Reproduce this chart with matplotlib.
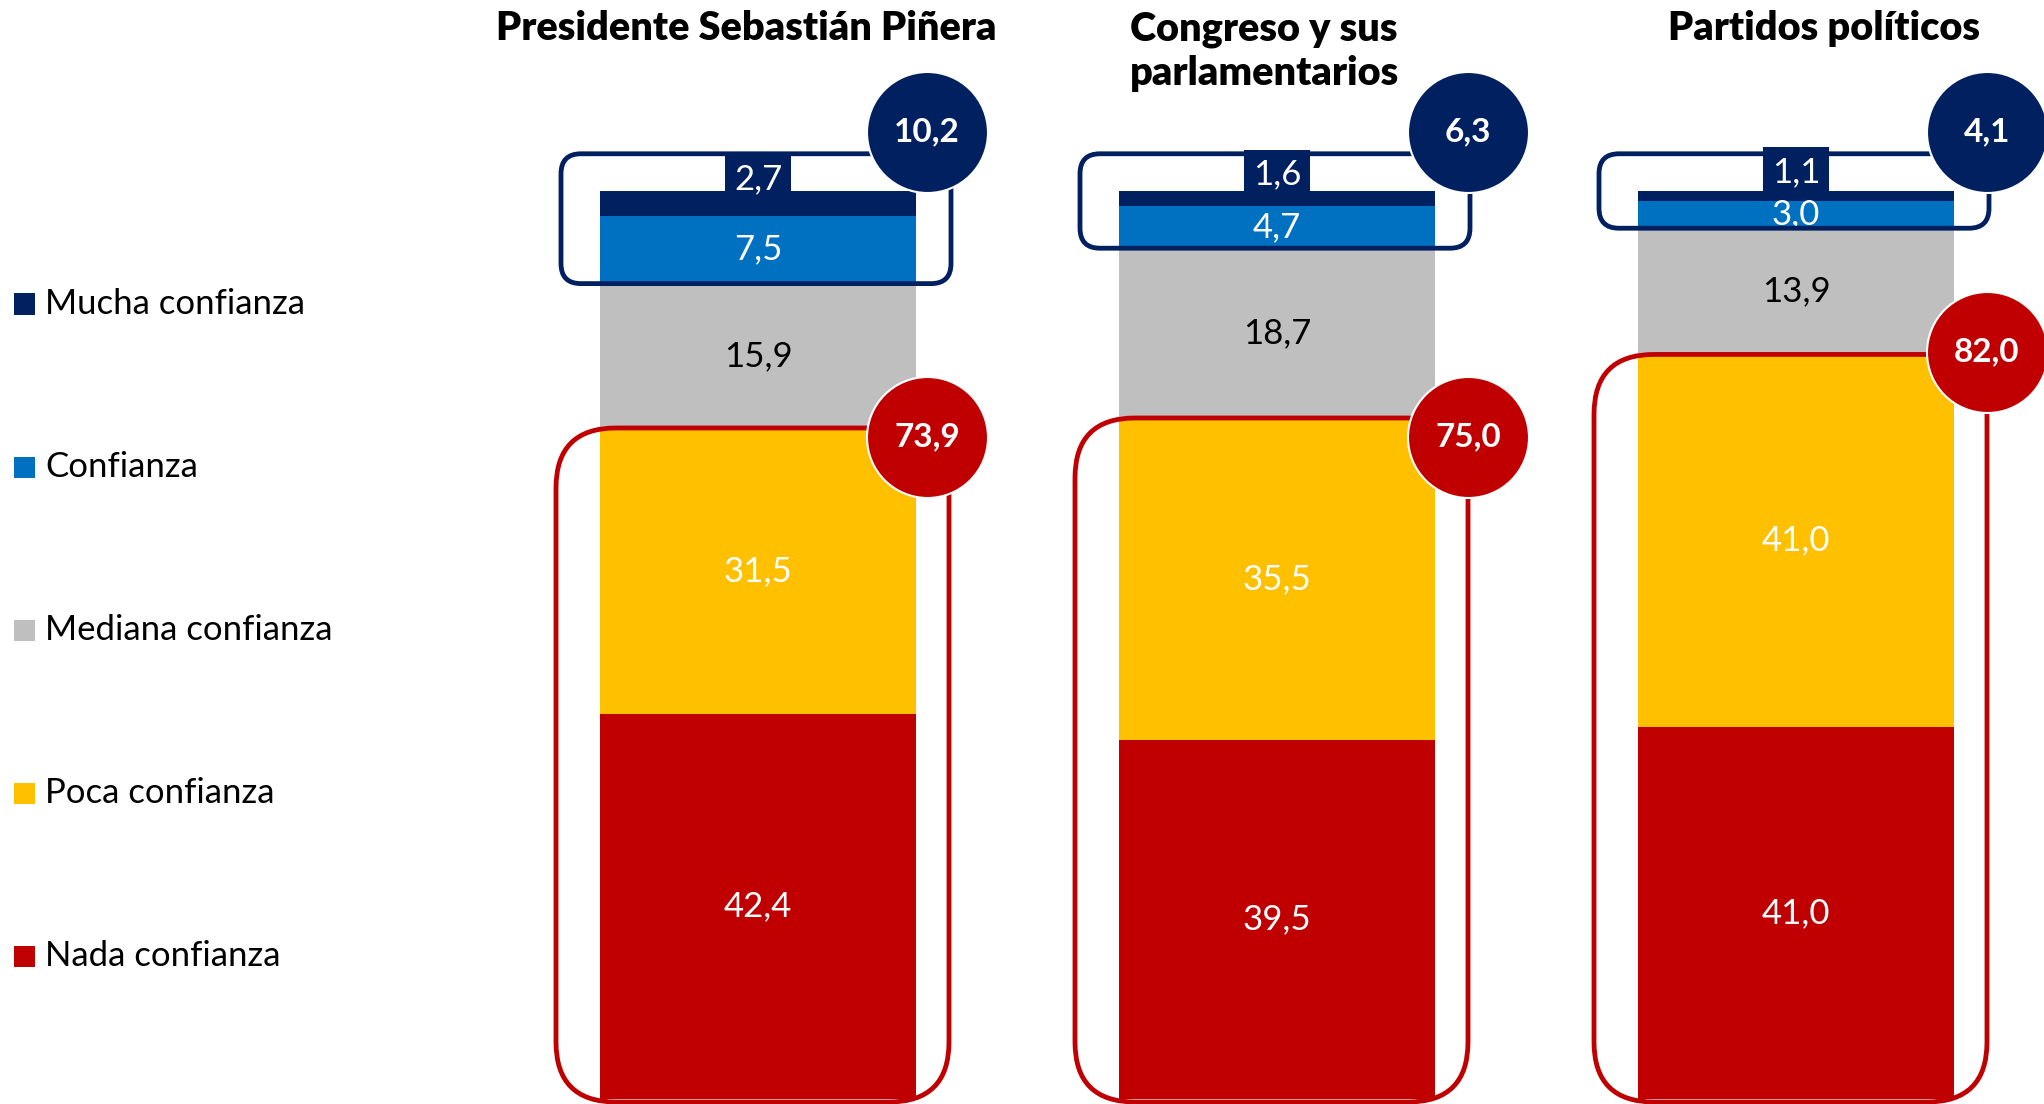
import matplotlib
matplotlib.use("Agg")
import matplotlib.pyplot as plt
from matplotlib.patches import FancyBboxPatch, Rectangle
import numpy as np

# ---------------- data ----------------
institutions = ["Presidente Sebastián Piñera", "Congreso y sus\nparlamentarios", "Partidos políticos"]
categories = ["Mucha confianza", "Confianza", "Mediana confianza", "Poca confianza", "Nada confianza"]
mucha = [2.7, 1.6, 1.1]
confianza = [7.5, 4.7, 3.0]
mediana = [15.9, 18.7, 13.9]
poca = [31.5, 35.5, 41.0]
nada = [42.4, 39.5, 41.0]
total_alta = [10.2, 6.3, 4.1]
total_baja = [73.9, 75.0, 82.0]

colors = ["#002060", "#0070C0", "#BFBFBF", "#FFC000", "#C00000"]
label_colors = ["white", "white", "black", "white", "white"]
NAVY, RED = colors[0], colors[4]

# ---------------- layout ----------------
W, H, DPI = 2044, 1104, 100
X0, XS = 758.0, 519.0        # pixel of category 0 centre, pixels per category
Y0, YS = 1099.0, 9.08        # pixel row of value 0 (from top), pixels per unit
PX, PY = 1.0 / XS, 1.0 / YS  # one pixel in data units

circle_dx_px = [169, 191, 191]       # circle centre offset from bar centre
red_circle_dy = [-1.0, -2.1, 0.3]    # red circle offset from the total value
title_dx_px = [-12, -13, 28]

fig = plt.figure(figsize=(W / DPI, H / DPI), dpi=DPI)
ax = fig.add_axes([0, 0, 1, 1])
ax.set_xlim(-X0 / XS, (W - X0) / XS)
ax.set_ylim(-(H - Y0) / YS, Y0 / YS)
ax.axis("off")

FONT = "Lato"
bar_w = 316 * PX
x = np.arange(len(institutions))

# stacked from bottom: nada, poca, mediana, confianza, mucha
series_bottom_up = [nada, poca, mediana, confianza, mucha]
cols_bottom_up = colors[::-1]
lblcols_bottom_up = label_colors[::-1]
bottom = np.zeros(len(x))
segments = []
for vals, c, lc in zip(series_bottom_up, cols_bottom_up, lblcols_bottom_up):
    vals = np.array(vals)
    ax.bar(x, vals, bottom=bottom, width=bar_w, color=c, edgecolor="none", zorder=1)
    segments.append((vals, bottom.copy(), lc))
    bottom = bottom + vals

# segment labels (all except the top "mucha" segment)
for vals, bot, lc in segments[:-1]:
    for i in range(len(x)):
        ax.text(x[i], bot[i] + vals[i] / 2, f"{vals[i]:.1f}".replace(".", ","),
                ha="center", va="center", fontsize=25, color=lc, family=FONT, zorder=2)

# mucha labels, in a navy box above the bar
vals, bot, lc = segments[-1]
for i in range(len(x)):
    ax.text(x[i], bot[i] + vals[i] / 2 + 24 * PY, f"{vals[i]:.1f}".replace(".", ","),
            ha="center", va="center", fontsize=25, color="white", family=FONT, zorder=5,
            bbox=dict(boxstyle="square,pad=0.25", fc=NAVY, ec="none"))

aspect = XS / YS
lw = 4.8 * 72 / DPI
# outline boxes
for i in range(len(x)):
    left = x[i] - bar_w / 2
    right = x[i] + bar_w / 2
    # high-confidence box
    ylo = 100 - (mucha[i] + confianza[i])
    yhi = 104.1
    bx0, bx1 = left - 39 * PX, right + 35 * PX
    ax.add_patch(FancyBboxPatch((bx0, ylo), bx1 - bx0, yhi - ylo,
                                boxstyle=f"round,pad=0,rounding_size={20 * PX}",
                                mutation_aspect=aspect, fc="none", ec=NAVY, lw=lw, zorder=4))
    # low-confidence box
    ylo2 = -3.0 * PY
    yhi2 = poca[i] + nada[i]
    rx0, rx1 = left - 44 * PX, right + 33 * PX
    ax.add_patch(FancyBboxPatch((rx0, ylo2), rx1 - rx0, yhi2 - ylo2,
                                boxstyle=f"round,pad=0,rounding_size={60 * PX}",
                                mutation_aspect=aspect, fc="none", ec=RED, lw=lw, zorder=4))

# circles with totals
circ_s = (121 * 72 / DPI) ** 2
cx = x + np.array(circle_dx_px) * PX
cy_alta = np.full(len(x), 106.5)
cy_baja = np.array(total_baja) + np.array(red_circle_dy)
ax.scatter(cx, cy_alta, s=circ_s, c=NAVY, edgecolors="white", linewidths=1.5, zorder=6)
ax.scatter(cx, cy_baja, s=circ_s, c=RED, edgecolors="white", linewidths=1.5, zorder=6)
for i in range(len(x)):
    ax.text(cx[i], cy_alta[i], f"{total_alta[i]:.1f}".replace(".", ","), ha="center", va="center",
            fontsize=24, fontweight="bold", color="white", family=FONT, zorder=7)
    ax.text(cx[i], cy_baja[i], f"{total_baja[i]:.1f}".replace(".", ","), ha="center", va="center",
            fontsize=24, fontweight="bold", color="white", family=FONT, zorder=7)

# titles
for i, t in enumerate(institutions):
    lines = t.split("\n")
    for k, line in enumerate(lines):
        ax.text(x[i] + title_dx_px[i] * PX, (Y0 - (40 + 45 * k)) / YS, line, ha="center",
                va="baseline", fontsize=28.5, fontweight="heavy", family=FONT, color="black")

# legend (manual)
leg_y = [304, 467, 630, 793, 956]
for lab, c, yy in zip(categories, colors, leg_y):
    fig.patches.append(Rectangle((14 / W, 1 - (yy + 10.5) / H), 21 / W, 21 / H,
                                 transform=fig.transFigure, fc=c, ec="none"))
    fig.text(45 / W, 1 - yy / H, lab, ha="left", va="center", fontsize=25, family=FONT,
             color="black")

fig.savefig("out.png", dpi=DPI)
